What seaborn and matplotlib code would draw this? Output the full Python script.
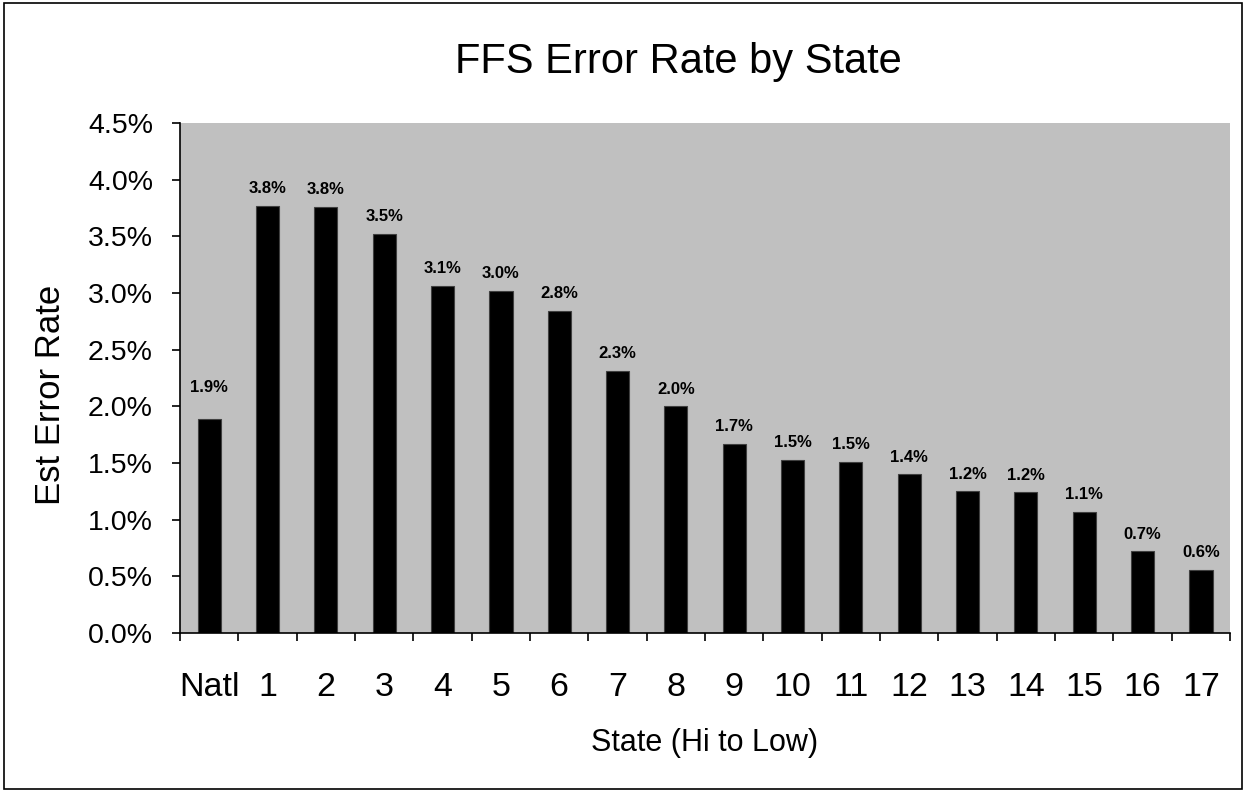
import matplotlib
matplotlib.use("Agg")
import matplotlib.pyplot as plt
import matplotlib.ticker as mticker
from matplotlib.patches import Rectangle
import seaborn as sns
import pandas as pd

categories = ["Natl", "1", "2", "3", "4", "5", "6", "7", "8", "9",
              "10", "11", "12", "13", "14", "15", "16", "17"]
error_rate = [1.89, 3.77, 3.76, 3.52, 3.06, 3.02, 2.84, 2.31, 2.00, 1.67,
              1.53, 1.51, 1.40, 1.25, 1.24, 1.07, 0.72, 0.56]
label_text = ["1.9%", "3.8%", "3.8%", "3.5%", "3.1%", "3.0%", "2.8%", "2.3%", "2.0%",
              "1.7%", "1.5%", "1.5%", "1.4%", "1.2%", "1.2%", "1.1%", "0.7%", "0.6%"]
y_ticks = [0.0, 0.5, 1.0, 1.5, 2.0, 2.5, 3.0, 3.5, 4.0, 4.5]

title = "FFS Error Rate by State"
x_title = "State (Hi to Low)"
y_title = "Est Error Rate"

sns.set_theme(style="white")
plt.rcParams["font.family"] = ["Liberation Sans", "DejaVu Sans"]

df = pd.DataFrame({"state": categories, "rate": error_rate})

fig = plt.figure(figsize=(12.47, 7.92), dpi=100)
fig.patch.set_facecolor("white")
ax = fig.add_axes([180 / 1247, 1 - 633 / 792, (1230 - 180) / 1247, (633 - 123) / 792])
ax.set_facecolor("#C0C0C0")

sns.barplot(data=df, x="state", y="rate", color="black", width=0.4,
            edgecolor="#404040", linewidth=0.8, saturation=1, ax=ax)

ax.set_ylim(0, 4.5)
ax.set_xlim(-0.5, len(categories) - 0.5)
ax.set_yticks(y_ticks)
ax.yaxis.set_major_formatter(mticker.FuncFormatter(lambda v, p: f"{v:.1f}%"))

# x ticks at category boundaries
ax.set_xticks(range(len(categories)))
ax.set_xticklabels(categories)
ax.set_xticks([i - 0.5 for i in range(len(categories) + 1)], minor=True)
ax.tick_params(axis="x", which="major", length=0, pad=28, labelsize=24.5, colors="black")
ax.tick_params(axis="x", which="minor", length=6, width=1.2, color="black", bottom=True)
ax.tick_params(axis="y", which="major", length=6, width=1.2, color="black", left=True,
               pad=13.5, labelsize=20.5, labelcolor="black")

for side in ["top", "right"]:
    ax.spines[side].set_visible(False)
for side in ["left", "bottom"]:
    ax.spines[side].set_visible(True)
    ax.spines[side].set_color("black")
    ax.spines[side].set_linewidth(1.2)

ax.set_xlabel("")
ax.set_ylabel("")

for i, (v, t) in enumerate(zip(error_rate, label_text)):
    off = 17 if i == 0 else 7
    ax.annotate(t, (i, v), xytext=(0, off), textcoords="offset points",
                ha="center", va="bottom", fontsize=12, fontweight="bold", color="black")

fig.text(678 / 1247, 1 - 62 / 792, title, ha="center", va="center", fontsize=30, color="black")
fig.text(705 / 1247, 1 - 743 / 792, x_title, ha="center", va="center", fontsize=22, color="black")
fig.text(51 / 1247, 1 - 395 / 792, y_title, ha="center", va="center", rotation=90,
         fontsize=25, color="black")

fig.patches.append(Rectangle((4 / 1247, 3 / 792), 1238 / 1247, 786 / 792,
                             transform=fig.transFigure, fill=False,
                             edgecolor="black", linewidth=1.2))

fig.savefig("out.png", dpi=100)
